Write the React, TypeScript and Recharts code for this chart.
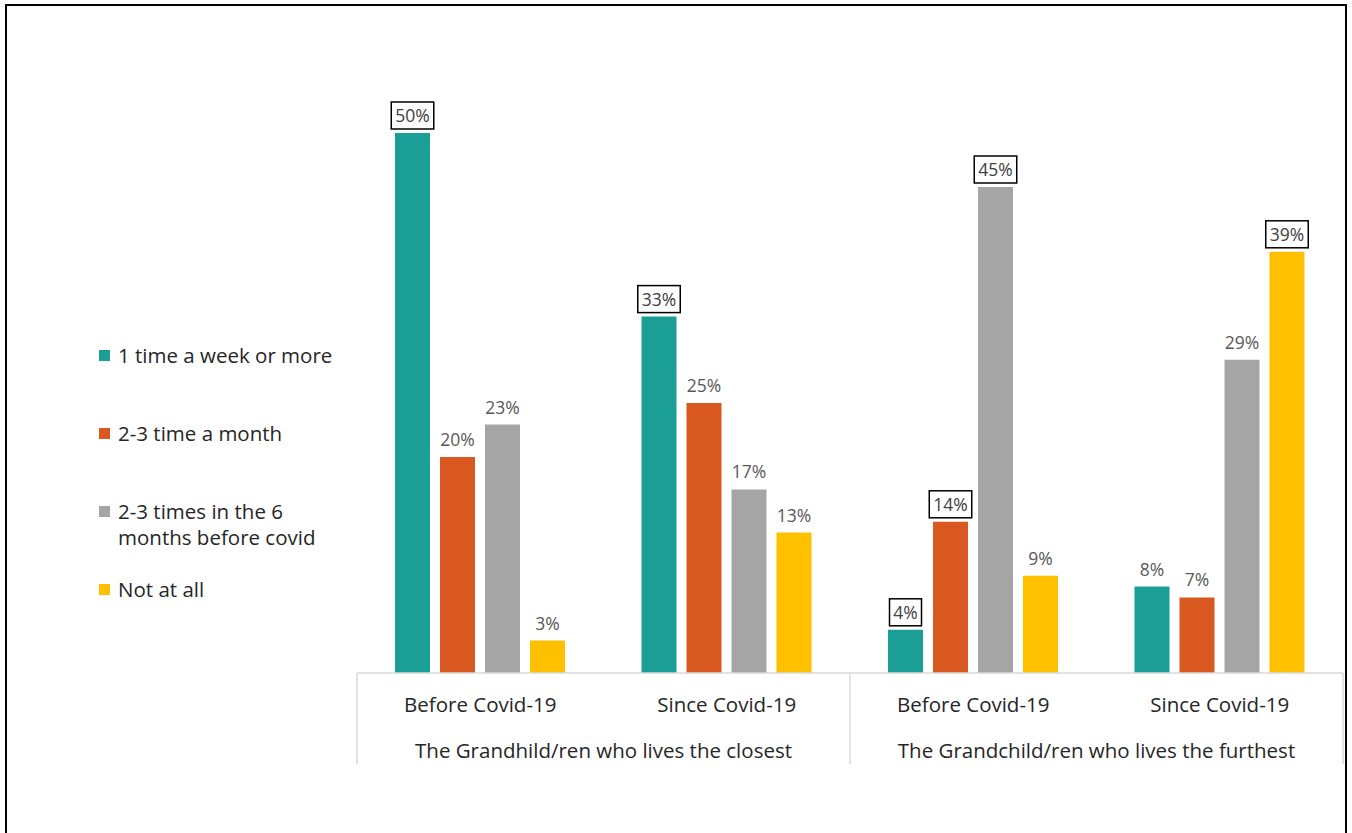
import { Bar, BarChart, LabelList, XAxis, YAxis } from 'recharts'

const periods = ['Before Covid-19', 'Since Covid-19', 'Before Covid-19', 'Since Covid-19']
const groups = ['The Grandhild/ren who lives the closest', 'The Grandchild/ren who lives the furthest']

const weekly = [50, 33, 4, 8]
const monthly = [20, 25, 14, 7]
const sixMonths = [23, 17, 45, 29]
const notAtAll = [3, 13, 9, 39]

// which labels Excel drew with a box around them
const weeklyBoxed = [true, true, true, false]
const monthlyBoxed = [false, false, true, false]
const sixMonthsBoxed = [false, false, true, false]
const notAtAllBoxed = [false, false, false, true]

const seriesDefs = [
  { key: 'weekly', name: '1 time a week or more', color: '#1A9E96', boxed: weeklyBoxed },
  { key: 'monthly', name: '2-3 time a month', color: '#D9581F', boxed: monthlyBoxed },
  { key: 'sixMonths', name: '2-3 times in the 6 months before covid', color: '#A5A5A5', boxed: sixMonthsBoxed },
  { key: 'notAtAll', name: 'Not at all', color: '#FFC000', boxed: notAtAllBoxed },
]

const data = periods.map((period, i) => ({
  period,
  weekly: weekly[i],
  monthly: monthly[i],
  sixMonths: sixMonths[i],
  notAtAll: notAtAll[i],
}))

const W = 1352
const H = 833
const margin = { top: 133, right: 9, bottom: 70, left: 357 }
const band = (W - margin.left - margin.right) / periods.length
const FONT = '"Open Sans", "Noto Sans", sans-serif'
const AXIS_GRAY = '#D9D9D9'
const TEXT = '#262626'

function makeLabel(boxed: boolean[]) {
  return function BarLabel(props: any) {
    const { x, y, width, value, index } = props
    const cx = Number(x) + Number(width) / 2
    const top = Number(y)
    const isBoxed = boxed[index]
    const text = `${value}%`
    const bw = text.length * 10.5 + 11
    return (
      <g>
        {isBoxed && (
          <rect x={cx - bw / 2} y={top - 31} width={bw} height={27} fill="#fff" stroke="#000" strokeWidth={1.5} />
        )}
        <text
          x={cx}
          y={top - 18}
          textAnchor="middle"
          dominantBaseline="central"
          fontFamily={FONT}
          fontSize={17.5}
          fill={isBoxed ? '#404040' : '#595959'}
        >
          {text}
        </text>
      </g>
    )
  }
}

function CategoryTick(props: any) {
  const { x, y, payload, index } = props
  const cx = Number(x)
  // tick y sits 8px under the axis line
  const axisY = Number(y) - 8
  return (
    <g>
      <text x={cx} y={axisY + 31} textAnchor="middle" dominantBaseline="central" fontFamily={FONT} fontSize={20.5} fill={TEXT}>
        {payload.value}
      </text>
      {index % 2 === 0 && (
        <>
          <line x1={cx - band / 2} x2={cx - band / 2} y1={axisY} y2={axisY + 91} stroke={AXIS_GRAY} strokeWidth={1.5} />
          <text
            x={cx + band / 2}
            y={axisY + 77}
            textAnchor="middle"
            dominantBaseline="central"
            fontFamily={FONT}
            fontSize={20.5}
            fill={TEXT}
          >
            {groups[index / 2]}
          </text>
        </>
      )}
      {index === periods.length - 1 && (
        <line x1={cx + band / 2} x2={cx + band / 2} y1={axisY} y2={axisY + 91} stroke={AXIS_GRAY} strokeWidth={1.5} />
      )}
    </g>
  )
}

function LegendBox() {
  return (
    <div style={{ position: 'absolute', left: 99, top: 342, fontFamily: FONT, fontSize: 20.5, color: TEXT, lineHeight: '26px' }}>
      {seriesDefs.map((s) => (
        <div key={s.key} style={{ display: 'flex', alignItems: 'flex-start', height: 78 }}>
          <span style={{ width: 11, height: 11, background: s.color, marginTop: 8, marginRight: 8, flex: 'none' }} />
          <span style={{ width: 222 }}>{s.name}</span>
        </div>
      ))}
    </div>
  )
}

export default function App() {
  return (
    <div style={{ position: 'absolute', left: 0, top: 0, width: W, height: H, background: '#fff', overflow: 'hidden' }}>
      <div
        style={{
          position: 'absolute',
          left: 5,
          top: 4,
          width: 1342,
          height: 900,
          boxSizing: 'border-box',
          border: '2px solid #000',
          borderBottom: 'none',
        }}
      />
      <div style={{ position: 'absolute', left: 0, top: 0 }}>
        <BarChart width={W} height={H} data={data} margin={margin} barSize={35} barGap={10}>
          <XAxis
            dataKey="period"
            height={90}
            tickLine={false}
            axisLine={{ stroke: AXIS_GRAY, strokeWidth: 1.5 }}
            tick={<CategoryTick />}
            interval={0}
          />
          <YAxis hide domain={[0, 50]} />
          {seriesDefs.map((s) => (
            <Bar key={s.key} dataKey={s.key} name={s.name} fill={s.color} isAnimationActive={false}>
              <LabelList dataKey={s.key} content={makeLabel(s.boxed)} />
            </Bar>
          ))}
        </BarChart>
      </div>
      <LegendBox />
    </div>
  )
}
